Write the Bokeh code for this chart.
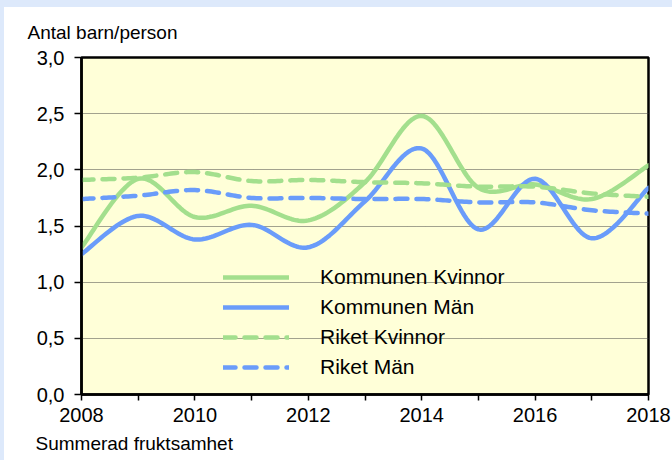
from bokeh.plotting import figure
from bokeh.embed import file_html
from bokeh.resources import INLINE
from bokeh.models import (Range1d, FixedTicker, CustomJSTickFormatter, Title,
                          Legend, LegendItem, LinearAxis)

# ---- data ----
years = [2008, 2009, 2010, 2011, 2012, 2013, 2014, 2015, 2016, 2017, 2018]
kommunen_kvinnor = [1.31, 1.92, 1.58, 1.68, 1.55, 1.89, 2.48, 1.84, 1.87, 1.74, 2.04]
kommunen_man = [1.25, 1.59, 1.38, 1.51, 1.31, 1.72, 2.19, 1.47, 1.92, 1.39, 1.84]
riket_kvinnor = [1.91, 1.93, 1.98, 1.90, 1.91, 1.89, 1.88, 1.85, 1.85, 1.79, 1.76]
riket_man = [1.74, 1.77, 1.82, 1.75, 1.75, 1.74, 1.74, 1.71, 1.71, 1.64, 1.61]
series_names = ["Kommunen Kvinnor", "Kommunen Män", "Riket Kvinnor", "Riket Män"]

y_ticks = [0.0, 0.5, 1.0, 1.5, 2.0, 2.5, 3.0]
y_tick_labels = ["0,0", "0,5", "1,0", "1,5", "2,0", "2,5", "3,0"]
x_ticks = years
x_tick_labels = ["2008", "", "2010", "", "2012", "", "2014", "", "2016", "", "2018"]

y_title = "Antal barn/person"
x_title = "Summerad fruktsamhet"

GREEN = "#a3df8d"
BLUE = "#6a9cfa"
FONT = "Liberation Sans"


def smooth(xs, ys, steps=24):
    """Excel-like smoothed line (Catmull-Rom / cubic Bezier) through the points."""
    n = len(xs)
    px, py = [], []
    for i in range(n - 1):
        x0, y0 = xs[max(i - 1, 0)], ys[max(i - 1, 0)]
        x1, y1 = xs[i], ys[i]
        x2, y2 = xs[i + 1], ys[i + 1]
        x3, y3 = xs[min(i + 2, n - 1)], ys[min(i + 2, n - 1)]
        c1x, c1y = x1 + (x2 - x0) / 6.0, y1 + (y2 - y0) / 6.0
        c2x, c2y = x2 - (x3 - x1) / 6.0, y2 - (y3 - y1) / 6.0
        for k in range(steps + (1 if i == n - 2 else 0)):
            t = k / steps
            a = (1 - t) ** 3
            b = 3 * (1 - t) ** 2 * t
            c = 3 * (1 - t) * t ** 2
            d = t ** 3
            px.append(a * x1 + b * c1x + c * c2x + d * x2)
            py.append(a * y1 + b * c1y + c * c2y + d * y2)
    return px, py


p = figure(width=672, height=460, output_backend="svg", toolbar_location=None,
           x_range=Range1d(2008, 2018), y_range=Range1d(0, 3),
           min_border_left=81, min_border_right=24, min_border_top=57,
           min_border_bottom=66)
p.styles = {"background-color": "#ffffff",
            "box-shadow": "inset 4px 7px 0 0 #dde9fb"}
p.border_fill_color = None
p.background_fill_color = "#ffffd8"
p.outline_line_color = "black"
p.outline_line_width = 2.5

LOOKUP = """
    for (let i = 0; i < tvals.length; i++) { if (Math.abs(tvals[i] - tick) < 1e-6) return tlabs[i]; }
    return '';
"""
p.xaxis.ticker = FixedTicker(ticks=x_ticks)
p.xaxis.formatter = CustomJSTickFormatter(args=dict(tvals=x_ticks, tlabs=x_tick_labels), code=LOOKUP)
p.yaxis.ticker = FixedTicker(ticks=y_ticks)
p.yaxis.formatter = CustomJSTickFormatter(args=dict(tvals=y_ticks, tlabs=y_tick_labels), code=LOOKUP)
for ax in (p.xaxis[0], p.yaxis[0]):
    ax.axis_line_color = "black"
    ax.axis_line_width = 2.5
    ax.major_tick_line_color = "black"
    ax.major_tick_line_width = 1.5
    ax.major_tick_in = 0
    ax.minor_tick_line_color = None
    ax.major_label_text_font = FONT
    ax.major_label_text_font_size = "20px"
    ax.major_label_text_color = "black"
p.xaxis.major_tick_out = 6
p.xaxis.major_label_standoff = 7
p.yaxis.major_tick_out = 7
p.yaxis.major_label_standoff = 10

# blank spacer axis (white on white, empty labels) so the bottom title sits at the foot
spacer = LinearAxis(ticker=FixedTicker(ticks=x_ticks),
                    formatter=CustomJSTickFormatter(code="return '';"),
                    axis_line_color="#ffffff", axis_line_width=1,
                    major_tick_line_color="#ffffff", minor_tick_line_color=None,
                    major_tick_in=0, major_tick_out=6, minor_tick_out=0,
                    major_label_standoff=0, major_label_text_font_size="1px")
p.add_layout(spacer, "below")

p.xgrid.grid_line_color = None
p.ygrid.ticker = FixedTicker(ticks=y_ticks[1:-1])
p.ygrid.grid_line_color = "#444444"
p.ygrid.grid_line_dash = "1 1"
p.ygrid.grid_line_width = 1

# titles
p.add_layout(Title(text=y_title, align="left", offset=-54, standoff=30,
                   text_font=FONT, text_font_size="19px", text_font_style="normal",
                   text_color="black"), "above")
p.add_layout(Title(text=x_title, align="left", offset=-46, standoff=0,
                   text_font=FONT, text_font_size="19px", text_font_style="normal",
                   text_color="black"), "below")

# lines
renderers = []
for ys, color, dash in [(kommunen_kvinnor, GREEN, "solid"),
                        (kommunen_man, BLUE, "solid"),
                        (riket_kvinnor, GREEN, "12 9"),
                        (riket_man, BLUE, "12 9")]:
    sx, sy = smooth(years, ys)
    r = p.line(sx, sy, line_color=color, line_width=4.5, line_dash=dash,
               line_cap="round", line_join="round")
    renderers.append(r)

legend = Legend(items=[LegendItem(label=n, renderers=[r]) for n, r in zip(series_names, renderers)],
                location=(142, 15), orientation="vertical",
                padding=0, margin=0, spacing=6,
                glyph_width=66, glyph_height=24, label_height=24,
                label_standoff=31,
                label_text_font=FONT, label_text_font_size="21px",
                label_text_color="black",
                background_fill_alpha=0, border_line_color=None)
p.add_layout(legend, "center")

open("out.html", "w").write(file_html(p, INLINE))
